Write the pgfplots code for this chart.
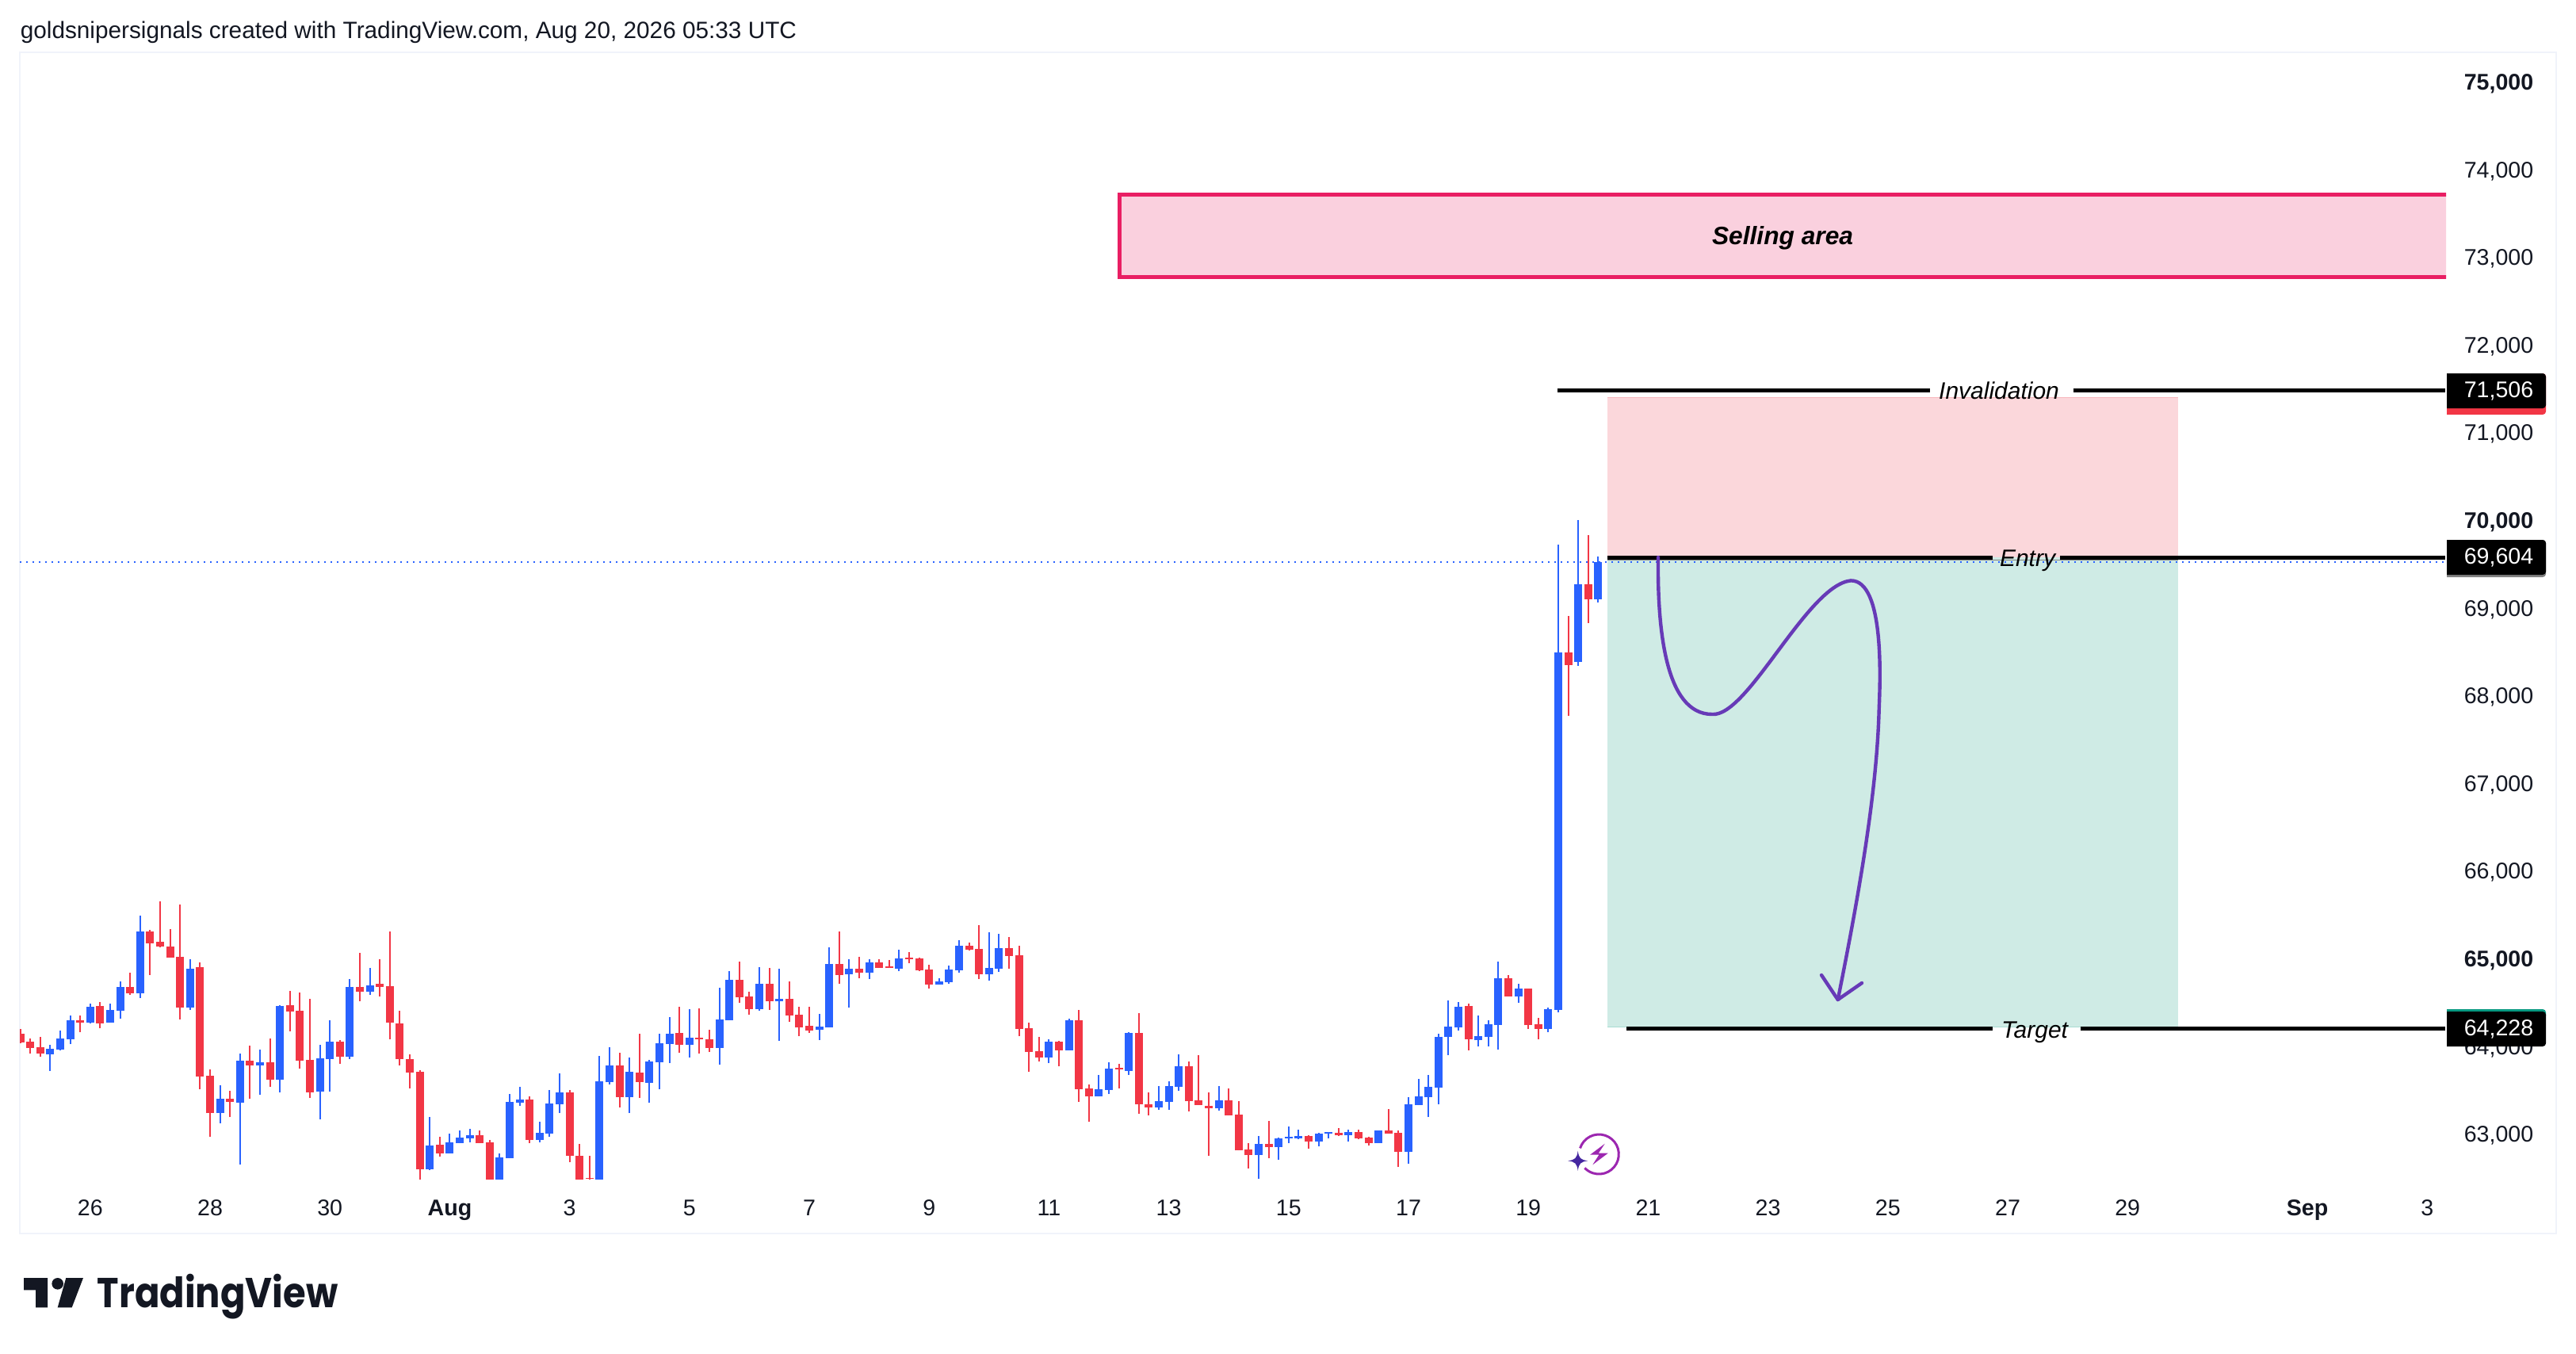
\documentclass[border=0pt]{standalone}
\usepackage{graphicx}
\usepackage{pgfplots}
\usepackage{pgfplotstable}
\pgfplotsset{compat=1.18}
\usepackage{fontspec}
\setmainfont{Liberation Sans}
\newfontfamily\logofont{Poppins}
\definecolor{tvblue}{HTML}{2962FF}
\definecolor{tvred}{HTML}{F23645}
\definecolor{tvink}{HTML}{131722}
\definecolor{boxred}{HTML}{FBD7DB}
\definecolor{boxredl}{HTML}{F8B7BD}
\definecolor{boxgreen}{HTML}{CFEBE5}
\definecolor{boxgreenl}{HTML}{A8DCD2}
\definecolor{sellfill}{HTML}{FAD0DE}
\definecolor{sellline}{HTML}{E91E63}
\definecolor{curve}{HTML}{673AB7}
\definecolor{panel}{HTML}{F0F3FA}
\definecolor{tgreen}{HTML}{089981}
\definecolor{bolt}{HTML}{9C27B0}
\definecolor{star}{HTML}{4527A0}
% columns: bar index, low, high, body bottom, body top
\pgfplotstableread{
i l h b t
-4 63747 64046 63937 64001
-3 63983 64209 63992 64118
-2 64055 64380 64109 64326
0 64290 64516 64299 64480
2 64299 64516 64299 64444
3 64344 64769 64435 64706
5 64579 65520 64634 65339
10 64444 65022 64471 64914
13 63151 63585 63268 63431
15 62680 63946 63386 63865
17 63476 63992 63811 63847
19 63503 64498 63648 64489
23 63196 64046 63512 63892
24 63512 64326 63883 64082
26 63883 64796 63910 64706
28 64615 64923 64652 64724
34 62617 63223 62626 62897
36 62807 63033 62807 62934
37 62925 63069 62925 62988
38 62934 63087 62979 63015
41 62476 62807 62491 62762
42 62753 63485 62753 63395
43 63350 63567 63386 63422
45 62934 63169 62961 63042
46 62997 63530 63033 63377
47 63268 63720 63368 63503
51 62476 63919 62491 63630
52 63594 64019 63621 63811
54 63268 63901 63449 63738
56 63386 63874 63612 63856
57 63539 64172 63847 64064
58 63838 64362 64055 64172
60 63901 64453 64046 64127
63 63820 64697 64010 64335
64 64326 64887 64326 64787
67 64435 64932 64453 64742
69 64091 64914 64543 64570
73 64100 64399 64218 64254
74 64245 65158 64245 64968
76 64471 65022 64851 64914
78 64796 65022 64869 64986
81 64887 65131 64914 65031
85 64733 64805 64733 64769
86 64742 64950 64760 64905
87 64869 65239 64896 65176
90 64778 65330 64851 64923
91 64878 65312 64914 65149
96 63838 64109 63901 64082
98 63983 64344 63983 64326
101 63458 63702 63458 63539
102 63485 63847 63530 63775
104 63702 64190 63747 64181
107 63304 63576 63332 63404
108 63304 63630 63395 63576
109 63521 63937 63567 63802
113 63295 63576 63322 63413
117 62518 63006 62789 62916
119 62735 62988 62879 62979
120 62925 63115 62979 62997
121 62970 63078 62979 63006
123 62888 63042 62943 63033
124 62979 63051 63033 63051
126 62943 63078 63015 63051
129 62925 63069 62925 63069
132 62690 63449 62825 63368
133 63359 63657 63359 63458
134 63223 63702 63449 63567
135 63368 64172 63558 64136
136 63928 64552 64136 64254
137 64209 64534 64245 64480
139 64028 64380 64100 64145
140 64028 64326 64136 64281
141 63992 64995 64272 64805
143 64525 64742 64597 64688
146 64190 64471 64227 64453
147 64417 69751 64444 68521
149 68368 70031 68413 69299
151 69091 69615 69127 69552
}\bluetab
\pgfplotstableread{
i l h b t
-7 64064 64224 64073 64172
-6 63946 64118 64010 64082
-5 63910 64136 63946 64019
-1 64190 64380 64299 64326
1 64236 64534 64290 64489
4 64615 64869 64634 64706
6 64842 65357 65203 65339
7 65158 65682 65167 65221
8 65040 65366 65040 65167
9 64335 65646 64471 65049
11 63539 64986 63684 64932
12 62997 63766 63268 63693
14 63223 63521 63395 63431
16 63431 64037 63811 63865
18 63567 64118 63648 63847
20 64200 64661 64426 64498
21 63775 64643 63865 64435
22 63440 64570 63503 63874
25 63829 64100 63910 64082
27 64543 65095 64652 64706
29 64597 65022 64706 64742
30 64109 65339 64299 64715
31 63811 64435 63883 64290
32 63549 63937 63729 63883
33 62506 63757 62626 63738
35 62771 62997 62807 62907
39 62925 63069 62925 63015
40 62476 62961 62491 62934
44 62925 63458 62961 63422
48 62708 63530 62780 63503
49 62476 62916 62491 62780
50 62491 62780 62518 62527
53 63332 63955 63449 63811
55 63440 64172 63621 63729
59 63955 64480 64046 64181
61 63946 64462 64109 64127
62 63964 64218 64010 64109
65 64525 64995 64588 64787
66 64389 64652 64453 64597
68 64444 64923 64543 64742
70 64308 64769 64380 64570
71 64145 64480 64245 64389
72 64181 64480 64209 64263
75 64742 65339 64842 64968
77 64805 65049 64869 64914
79 64923 65022 64923 64986
80 64923 65013 64923 64941
82 64977 65104 65022 65040
83 64887 65040 64896 65031
84 64688 64959 64733 64905
88 65122 65212 65131 65176
89 64796 65411 64851 65140
92 64914 65276 65059 65149
93 64145 65176 64227 65068
94 63738 64299 63964 64236
95 63856 64136 63901 63973
97 63802 64091 63983 64082
99 63395 64444 63539 64326
100 63169 63594 63458 63549
103 63549 63829 63766 63784
105 63259 64407 63368 64181
106 63241 63503 63332 63368
110 63286 63856 63404 63802
111 63359 63928 63359 63413
112 62780 63503 63322 63350
114 63241 63549 63241 63413
115 62843 63404 62843 63250
116 62635 62925 62789 62852
118 62753 63178 62879 62916
122 62861 63015 62943 63006
125 63006 63096 63015 63042
127 62970 63078 62979 63051
128 62897 62997 62925 62988
130 63033 63313 63033 63069
131 62653 63069 62825 63042
138 63983 64516 64109 64489
142 64597 64842 64597 64805
144 64227 64688 64272 64688
145 64109 64353 64227 64281
148 67798 68937 68377 68521
150 68856 69860 69127 69299
}\redtab
\begin{document}
\begin{tikzpicture}
\useasboundingbox (0pt,0pt) rectangle (812.5pt,426.75pt);
\fill[white] (0pt,0pt) rectangle (812.5pt,426.75pt);
\draw[panel,line width=0.5pt] (6.25pt,37.75pt) rectangle (806.25pt,410.25pt);
\begin{axis}[
  at={(6.25pt,55pt)}, anchor=south west,
  scale only axis, width=765.25pt, height=355.25pt,
  xmin=-7.05, xmax=235.89, ymin=62518, ymax=75366,
  axis line style={draw=none}, major tick length=0pt,
  scaled y ticks=false, scaled x ticks=false,
  xtick={0,12,24,36,48,60,72,84,96,108,120,132,144,156,168,180,192,204,222,234},
  xticklabels={26,28,30,\textbf{Aug},3,5,7,9,11,13,15,17,19,21,23,25,27,29,\textbf{Sep},3},
  ytick={63000,64000,65000,66000,67000,68000,69000,70000,71000,72000,73000,74000,75000},
  yticklabels={{63,000},{64,000},\textbf{65,000},{66,000},{67,000},{68,000},{69,000},\textbf{70,000},{71,000},{72,000},{73,000},{74,000},\textbf{75,000}},
  yticklabel pos=right,
  yticklabel style={anchor=base east, font=\fontsize{7.15pt}{8pt}\selectfont, text=tvink, xshift=27.75pt, yshift=-1.75pt, inner sep=0pt},
  xticklabel style={anchor=base, font=\fontsize{7.15pt}{8pt}\selectfont, text=tvink, yshift=-11.5pt, inner sep=0pt},
]
% position tool
\addplot[fill=boxred,draw=none] coordinates {(151.92,71430)(209.06,71430)(209.06,69604)(151.92,69604)} -- cycle;
\addplot[fill=boxgreen,draw=none] coordinates {(151.92,69604)(209.06,69604)(209.06,64254)(151.92,64254)} -- cycle;
\addplot[boxredl,line width=0.25pt] coordinates {(151.92,71430)(209.06,71430)};
\addplot[boxgreenl,line width=0.25pt] coordinates {(151.92,64254)(209.06,64254)};
\addplot[gray,line width=0.4pt] coordinates {(151.92,69575)(209.06,69575)};
% selling area
\addplot[fill=sellfill,draw=sellline,line width=1.25pt] coordinates {(103.07,73743)(245,73743)(245,72803)(103.07,72803)} -- cycle;
% candles
\addplot[draw=none,no markers,error bars/.cd,y dir=plus,y explicit,error mark=none,error bar style={draw=tvblue,line width=0.5pt}] table[x=i,y=l,y error expr=\thisrow{h}-\thisrow{l}] {\bluetab};
\addplot[draw=none,no markers,error bars/.cd,y dir=plus,y explicit,error mark=none,error bar style={draw=tvred,line width=0.5pt}] table[x=i,y=l,y error expr=\thisrow{h}-\thisrow{l}] {\redtab};
\addplot[draw=none,no markers,error bars/.cd,y dir=plus,y explicit,error mark=none,error bar style={draw=tvblue,line width=2.5pt}] table[x=i,y=b,y error expr=\thisrow{t}-\thisrow{b}] {\bluetab};
\addplot[draw=none,no markers,error bars/.cd,y dir=plus,y explicit,error mark=none,error bar style={draw=tvred,line width=2.5pt}] table[x=i,y=b,y error expr=\thisrow{t}-\thisrow{b}] {\redtab};
% level lines
\addplot[black,line width=1.25pt] coordinates {(146.92,71506)(184.22,71506)};
\addplot[black,line width=1.25pt] coordinates {(198.56,71506)(235.8,71506)};
\addplot[black,line width=1.25pt] coordinates {(151.92,69604)(190.49,69604)};
\addplot[black,line width=1.25pt] coordinates {(197.26,69604)(235.8,69604)};
\addplot[black,line width=1.25pt] coordinates {(153.83,64228)(190.49,64228)};
\addplot[black,line width=1.25pt] coordinates {(199.3,64228)(235.8,64228)};
% last price
\addplot[tvblue,line width=0.5pt,dash pattern=on 0.5pt off 1.5pt] coordinates {(-7.05,69552)(235.89,69552)};
\end{axis}
\begin{scope}[shift={(0pt,426.75pt)},x=0.25pt,y=-0.25pt]
% labels of levels
\node[anchor=base,inner sep=0pt,font=\fontsize{7.5pt}{9pt}\selectfont\itshape,text=black] at (2522,503) {Invalidation};
\node[anchor=base,inner sep=0pt,font=\fontsize{7.5pt}{9pt}\selectfont\itshape,text=black] at (2558,714) {Entry};
\node[anchor=base,inner sep=0pt,font=\fontsize{7.5pt}{9pt}\selectfont\itshape,text=black] at (2567,1309) {Target};
\node[anchor=base,inner sep=0pt,font=\fontsize{7.93pt}{10pt}\selectfont\bfseries\itshape,text=black] at (2249,308) {Selling area};
% drawn path
\draw[curve,line width=1.1pt,line cap=round,line join=round] (2092,703) .. controls (2091,790) and (2100,901) .. (2160,901) .. controls (2205,905) and (2280,738) .. (2335,732.4) .. controls (2378,732) and (2372,860) .. (2370.7,894) .. controls (2368,1000) and (2345,1130) .. (2318.7,1261);
\draw[curve,line width=1.1pt,line cap=round,line join=round] (2298,1230) -- (2318.7,1261) -- (2349,1240);
% price tags
\fill[tvred,rounded corners=1pt] (3087,471) -- (3212,471) -- (3212,523) [sharp corners] -- (3087,523) -- cycle;
\fill[black,rounded corners=1pt] (3087,471) -- (3212,471) -- (3212,515) [sharp corners] -- (3087,515) -- cycle;
\fill[gray,rounded corners=1pt] (3087,681) -- (3212,681) -- (3212,728) [sharp corners] -- (3087,728) -- cycle;
\fill[black,rounded corners=1pt] (3087,681) -- (3212,681) -- (3212,725) [sharp corners] -- (3087,725) -- cycle;
\fill[tgreen,rounded corners=1pt] (3087,1273) -- (3212,1273) -- (3212,1285) [sharp corners] -- (3087,1285) -- cycle;
\fill[black,rounded corners=1pt] (3087,1276) -- (3212,1276) -- (3212,1320) [sharp corners] -- (3087,1320) -- cycle;
\node[anchor=base east,inner sep=0pt,text=white,font=\fontsize{7.15pt}{8pt}\selectfont] at (3197,501) {71,506};
\node[anchor=base east,inner sep=0pt,text=white,font=\fontsize{7.15pt}{8pt}\selectfont] at (3197,711) {69,604};
\node[anchor=base east,inner sep=0pt,text=white,font=\fontsize{7.15pt}{8pt}\selectfont] at (3197,1306) {64,228};
% header
\node[anchor=base west,inner sep=0pt,text=tvink,font=\fontsize{7.44pt}{8pt}\selectfont] at (25,49) {goldsnipersignals created with TradingView.com, Aug 20, 2026 05:33 UTC};
% logo
\fill[tvink] (30,1612) -- (60,1612) -- (60,1649.3) -- (45,1649.3) -- (45,1627.3) -- (30,1627.3) -- cycle;
\fill[tvink] (72.7,1619.3) circle[radius=7.3];
\fill[tvink] (83.3,1612) -- (105,1612) -- (90.7,1649.3) -- (72.7,1649.3) -- cycle;
\node[anchor=base west,inner sep=0pt,text=tvink,font=\fontsize{13.2pt}{16pt}\logofont\bfseries] at (122,1649) {\scalebox{0.88}[1]{TradingView}};
% sparkle icon
\draw[bolt,line width=0.75pt] (1993.5,1448.4) arc[start angle=197.7,end angle=496,radius=25];
\fill[bolt] (2024.7,1442.7) -- (2006,1456.7) -- (2017.3,1456.7) -- (2009.3,1469.3) -- (2028.7,1454.7) -- (2016.7,1454.7) -- cycle;
\fill[star] (1990.7,1451.8) .. controls (1992,1461) and (1994,1463) .. (2003.2,1464.3) .. controls (1994,1465.6) and (1992,1467.6) .. (1990.7,1476.8) .. controls (1989.4,1467.6) and (1987.4,1465.6) .. (1978.2,1464.3) .. controls (1987.4,1463) and (1989.4,1461) .. cycle;
\end{scope}
\end{tikzpicture}
\end{document}
